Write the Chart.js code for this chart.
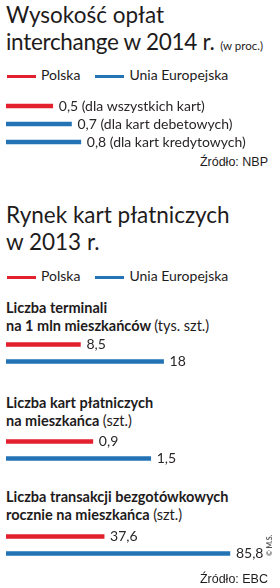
<!DOCTYPE html>
<html>
<head>
<meta charset="utf-8">
<script src="https://cdn.jsdelivr.net/npm/chart.js@4"></script>
<style>
  body { margin: 0; background: #fff; width: 280px; height: 588px; position: relative; overflow: hidden;
         font-family: Lato, 'Open Sans', sans-serif; color: #1e1b1c; }
  .abs { position: absolute; white-space: nowrap; }
  .title { font-size: 22.5px; line-height: 26.5px; left: 6px; }
  .small { font-size: 11.5px; }
  .legend { font-size: 14px; left: 7px; }
  .legend span.sw { display: inline-block; width: 29px; height: 3px; vertical-align: middle; margin-right: 5px; }
  .sub { font-weight: bold; font-size: 14.5px; line-height: 18px; left: 6px; }
  .sub span { font-weight: normal; }
  .src { font-family: 'Liberation Sans Narrow', 'Liberation Sans', sans-serif; font-size: 12.5px; right: 12px; }
  canvas { position: absolute; left: 0; }
</style>
</head>
<body>
<div class="abs title" style="top:2px">Wysokość opłat<br><span style="letter-spacing:-0.3px">interchange w 2014 r.</span> <span class="small">(w proc.)</span></div>
<div class="abs legend" style="top:66px"><span class="sw" style="background:#e2202e"></span>Polska<span class="sw" style="background:#2373b5;margin-left:15px"></span>Unia Europejska</div>
<canvas id="c1" width="280" height="54" style="top:97px"></canvas>
<div class="abs src" style="top:155px">Źródło: NBP</div>

<div class="abs title" style="top:202px">Rynek kart płatniczych<br>w 2013 r.</div>
<div class="abs legend" style="top:267px"><span class="sw" style="background:#e2202e"></span>Polska<span class="sw" style="background:#2373b5;margin-left:15px"></span>Unia Europejska</div>

<div class="abs sub" style="top:299px">Liczba terminali<br>na 1 mln mieszkańców <span>(tys. szt.)</span></div>
<canvas id="c2" width="280" height="34" style="top:336px"></canvas>
<div class="abs sub" style="top:394px">Liczba kart płatniczych<br>na mieszkańca <span>(szt.)</span></div>
<canvas id="c3" width="280" height="34" style="top:433px"></canvas>
<div class="abs sub" style="top:488px">Liczba transakcji bezgotówkowych<br>rocznie na mieszkańca <span>(szt.)</span></div>
<canvas id="c4" width="280" height="34" style="top:528px"></canvas>
<div class="abs" style="font-size:7px;font-weight:bold;left:265px;top:556px;transform:rotate(-90deg);transform-origin:left top;color:#555">© M.S.</div>
<div class="abs src" style="top:572px">Źródło: EBC</div>

<script>
const RED = '#e2202e';
const BLUE = '#2373b5';

// Wysokość opłat interchange 2014 (w proc.)
const interchangeLabels = ['0,5 (dla wszystkich kart)', '0,7 (dla kart debetowych)', '0,8 (dla kart kredytowych)'];
const interchangeValues = [0.5, 0.7, 0.8];

// Rynek kart 2013: Polska, Unia Europejska
const seriesNames = ['Polska', 'Unia Europejska'];
const terminalValues = [8.5, 18];
const terminalLabels = ['8,5', '18'];
const cardValues = [0.9, 1.5];
const cardLabels = ['0,9', '1,5'];
const transactionValues = [37.6, 85.8];
const transactionLabels = ['37,6', '85,8'];

const valueLabels = {
  id: 'valueLabels',
  afterDatasetsDraw(chart) {
    const ctx = chart.ctx;
    const meta = chart.getDatasetMeta(0);
    const texts = chart.options.plugins.valueLabels.texts;
    ctx.save();
    ctx.font = '14px Lato, "Open Sans", sans-serif';
    ctx.fillStyle = '#2a2627';
    ctx.textBaseline = 'middle';
    meta.data.forEach((bar, i) => {
      ctx.fillText(texts[i], bar.x + 6, bar.y);
    });
    ctx.restore();
  }
};

function makeBars(id, values, texts, colors, max) {
  new Chart(document.getElementById(id), {
    type: 'bar',
    data: {
      labels: texts,
      datasets: [{
        data: values,
        backgroundColor: colors,
        barThickness: 4,
        borderSkipped: false
      }]
    },
    options: {
      indexAxis: 'y',
      responsive: false,
      animation: false,
      layout: { padding: { left: 6, right: 0, top: 0, bottom: 0 } },
      scales: {
        x: { display: false, min: 0, max: max },
        y: { display: false }
      },
      plugins: {
        legend: { display: false },
        tooltip: { enabled: false },
        valueLabels: { texts: texts }
      }
    },
    plugins: [valueLabels]
  });
}

makeBars('c1', interchangeValues, interchangeLabels, [RED, BLUE, BLUE], 2.93);
makeBars('c2', terminalValues, terminalLabels, [RED, BLUE], 31.3);
makeBars('c3', cardValues, cardLabels, [RED, BLUE], 2.84);
makeBars('c4', transactionValues, transactionLabels, [RED, BLUE], 105);
</script>
</body>
</html>
